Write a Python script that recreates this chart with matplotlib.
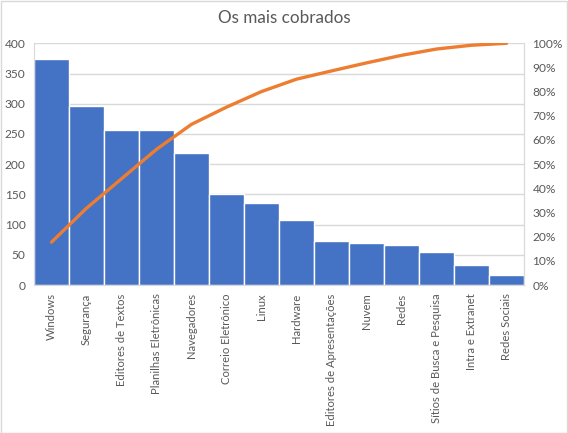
import matplotlib
matplotlib.use("Agg")
import matplotlib.pyplot as plt
import numpy as np
from matplotlib.ticker import FuncFormatter

categories = ["Windows", "Segurança", "Editores de Textos", "Planilhas Eletrônicas",
              "Navegadores", "Correio Eletrônico", "Linux", "Hardware",
              "Editores de Apresentações", "Nuvem", "Redes",
              "Sítios de Busca e Pesquisa", "Intra e Extranet", "Redes Sociais"]
counts = [374, 296, 257, 257, 218, 150, 136, 108, 72, 70, 66, 55, 33, 17]
left_ticks = [0, 50, 100, 150, 200, 250, 300, 350, 400]
right_ticks = [0, 10, 20, 30, 40, 50, 60, 70, 80, 90, 100]

plt.rcParams['font.family'] = ['Lato', 'DejaVu Sans']

W, H = 568, 433
fig = plt.figure(figsize=(W / 100, H / 100), dpi=100)
fig.patch.set_facecolor("white")
# chart border
fig.add_artist(plt.Rectangle((0.5 / W, 0.5 / H), 1 - 1.5 / W, 1 - 1.5 / H,
                             transform=fig.transFigure, fill=False,
                             edgecolor="#d9d9d9", linewidth=1))

ax = fig.add_axes([34 / W, 1 - 285 / H, (524 - 34) / W, (285 - 43.3) / H])
x = np.arange(len(categories))
ax.bar(x, counts, width=1.0, color="#4472C4", edgecolor="white", linewidth=1, zorder=2)
ax.set_xlim(-0.5, len(categories) - 0.5)
ax.set_ylim(0, 400)
ax.set_yticks(left_ticks)
ax.yaxis.grid(True, color="#d9d9d9", linewidth=1, zorder=0)
ax.set_axisbelow(True)
ax.set_xticks(x)
ax.set_xticklabels(categories, rotation=90, fontsize=8.1, color="#595959")
ax.tick_params(axis="y", length=0, labelsize=8.6, labelcolor="#595959", pad=6)
ax.tick_params(axis="x", length=0, labelcolor="#595959", pad=6)
for s in ["top"]:
    ax.spines[s].set_visible(False)
for s in ["left", "right", "bottom"]:
    ax.spines[s].set_color("#d9d9d9")

ax2 = ax.twinx()
cum = np.cumsum(counts) / np.sum(counts) * 100
ax2.plot(x, cum, color="#ED7D31", linewidth=2.4, solid_capstyle="round", zorder=3)
ax2.set_ylim(0, 100)
ax2.set_yticks(right_ticks)
ax2.yaxis.set_major_formatter(FuncFormatter(lambda v, p: f"{int(v)}%"))
ax2.tick_params(axis="y", length=0, labelsize=8.6, labelcolor="#595959", pad=6)
for s in ["top", "left", "bottom"]:
    ax2.spines[s].set_visible(False)
ax2.spines["right"].set_color("#d9d9d9")

fig.text(0.5, 1 - 18 / H, "Os mais cobrados", ha="center", va="center",
         fontsize=12.3, color="#595959")

fig.savefig("out.png", dpi=100)
